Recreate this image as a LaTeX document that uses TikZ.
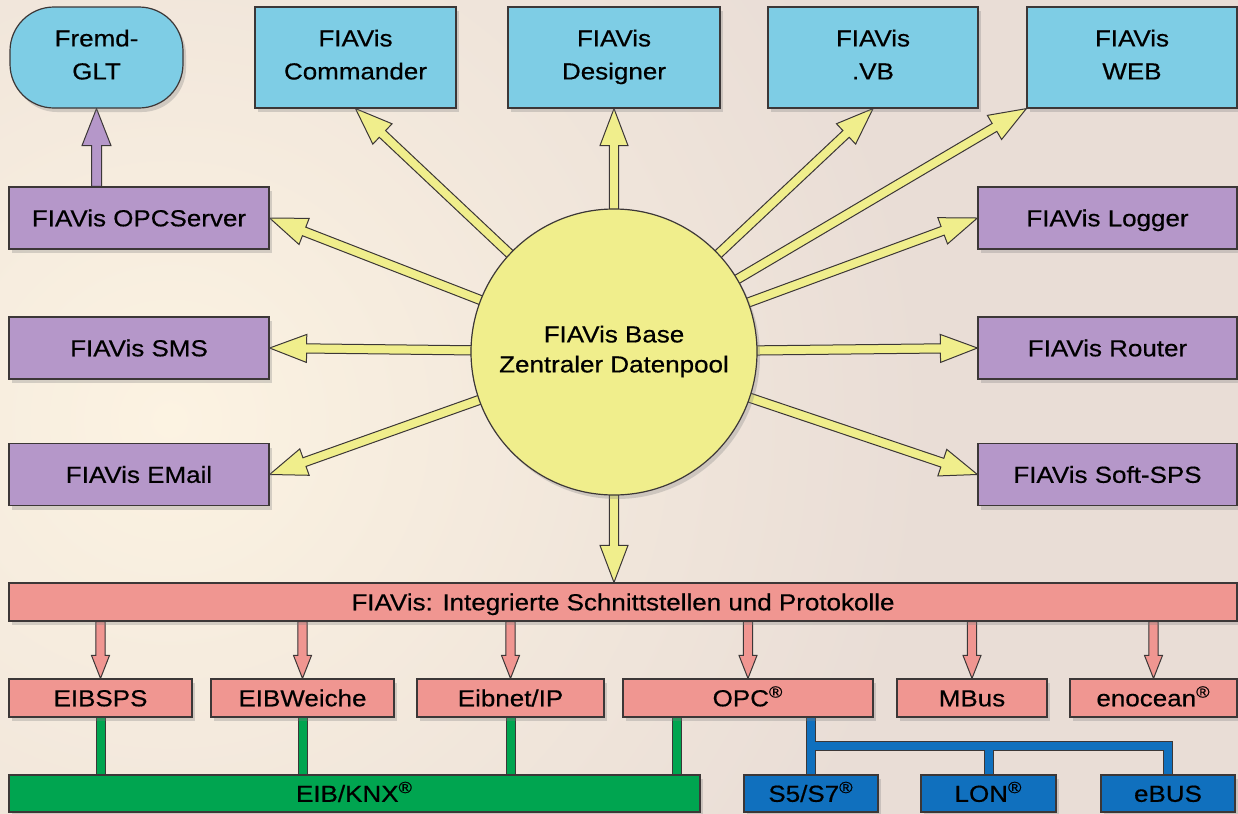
\documentclass[tikz,border=0pt]{standalone}
\usepackage{fontspec}
\setmainfont{Liberation Sans}[FakeStretch=1.12,FakeBold=0.5]
\usetikzlibrary{calc,shadows}
\pgfdeclarelayer{bgl}\pgfdeclarelayer{arr}\pgfsetlayers{bgl,arr,main}
\definecolor{bgc}{RGB}{233,221,214}
\definecolor{glow}{RGB}{252,243,226}
\definecolor{cyanbox}{RGB}{126,205,229}
\definecolor{purp}{RGB}{181,151,201}
\definecolor{yel}{RGB}{240,238,140}
\definecolor{pinkb}{RGB}{240,150,145}
\definecolor{greenb}{RGB}{0,165,80}
\definecolor{blueb}{RGB}{16,112,190}
\definecolor{edge}{RGB}{60,55,55}
\tikzset{
 box/.style={draw=edge, line width=0.6pt, inner sep=0pt, align=center, text=black,
   font=\fontsize{11.6}{16.5}\selectfont,
   execute at begin node={\rule{0pt}{11.3pt}}, execute at end node={\rule[-3pt]{0pt}{3pt}},
   drop shadow={opacity=0.3, shadow xshift=1.5pt, shadow yshift=-2pt}},
 topbox/.style={box, fill=cyanbox, minimum height=50.5pt, execute at begin node={\rule{0pt}{14.8pt}}},
 purpbox/.style={box, fill=purp, minimum height=31pt},
 pinkbox/.style={box, fill=pinkb, minimum height=19pt},
 greenbox/.style={box, fill=greenb, minimum height=18.5pt},
 bluebox/.style={box, fill=blueb, minimum height=18.5pt},
 yarrow/.style={draw=edge, line width=0.5pt, fill=yel, line join=miter},
 parrow/.style={draw=edge, line width=0.5pt, fill=pinkb, line join=miter},
 varrow/.style={draw=edge, line width=0.5pt, fill=purp, line join=miter},
}
% #1 style, #2 half shaft, #3 half head, #4 head length, #5 from, #6 to
\newcommand\faPoly[3]{(0,-#1) -- ({\faLen-#3},-#1) -- ({\faLen-#3},-#2) -- (\faLen,0) -- ({\faLen-#3},#2) -- ({\faLen-#3},#1) -- (0,#1) -- cycle}
\newcommand\fatarrow[6]{%
  \path #5 coordinate (fa-s) #6 coordinate (fa-e);
  \path let \p1=(fa-s), \p2=(fa-e) in \pgfextra{%
    \pgfmathsetmacro\faA{atan2(\y2-\y1,\x2-\x1)}%
    \pgfmathsetmacro\faL{veclen(\x2-\x1,\y2-\y1)}%
    \xdef\faAng{\faA}\xdef\faLen{\faL}};
  \fill[black, opacity=0.25, xshift=1.5pt, yshift=-2pt, shift={(fa-s)}, rotate=\faAng, x=1pt, y=1pt] \faPoly{#2}{#3}{#4};
  \draw[#1, shift={(fa-s)}, rotate=\faAng, x=1pt, y=1pt] \faPoly{#2}{#3}{#4};
}
\begin{document}
\begin{tikzpicture}[x=0.5pt,y=-0.5pt]
\useasboundingbox (0,0) rectangle (1238,814);
\begin{pgfonlayer}{bgl}
\fill[bgc] (0,0) rectangle (1238,814);
\begin{scope}
\clip (0,0) rectangle (1238,814);
\shade[inner color=glow, outer color=bgc] (170,420) circle (760);
\end{scope}
\end{pgfonlayer}

% top row
\node[topbox, rounded corners=22pt, minimum width=86.5pt] (fremd) at (96.5,57.5) {Fremd-\\GLT};
\node[topbox, minimum width=100.5pt] (cmd) at (355.5,57.5) {FIAVis\\Commander};
\node[topbox, minimum width=106pt] (des) at (614,57.5) {FIAVis\\Designer};
\node[topbox, minimum width=105pt] (vb) at (873,57.5) {FIAVis\\.VB};
\node[topbox, minimum width=105pt] (web) at (1132,57.5) {FIAVis\\WEB};

% purple
\node[purpbox, minimum width=130pt] (opcs) at (139,218) {FIAVis OPCServer};
\node[purpbox, minimum width=130pt] (sms) at (139,348) {FIAVis SMS};
\node[purpbox, minimum width=130pt] (em) at (139,474.5) {FIAVis EMail};
\node[purpbox, minimum width=129.5pt] (log) at (1107.5,218) {FIAVis Logger};
\node[purpbox, minimum width=129.5pt] (rou) at (1107.5,348) {FIAVis Router};
\node[purpbox, minimum width=129.5pt] (sps) at (1107.5,474.5) {FIAVis Soft-SPS};

% centre
\node[box, circle, fill=yel, minimum size=143pt, font=\fontsize{11.6}{15}\selectfont,
  execute at begin node={\rule{0pt}{14.3pt}}] (pool) at (614,352) {FIAVis Base\\Zentraler Datenpool};

% interface bar
\node[pinkbox, minimum width=614pt] (int) at (623,602) {FIAVis: Integrierte Schnittstellen und Protokolle};

% protocols
\node[pinkbox, minimum width=91.5pt] (eibsps) at (100.5,698) {EIBSPS};
\node[pinkbox, minimum width=91.5pt] (eibw) at (302.5,698) {EIBWeiche};
\node[pinkbox, minimum width=93.5pt] (eibnet) at (510.5,698) {Eibnet/IP};
\node[pinkbox, minimum width=125pt] (opc) at (748,698) {OPC\textsuperscript{®}};
\node[pinkbox, minimum width=75pt] (mbus) at (972,698) {MBus};
\node[pinkbox, minimum width=83.5pt] (enoc) at (1153.5,698) {enocean\textsuperscript{®}};

% buses
\node[greenbox, minimum width=345.5pt] (knx) at (354.5,793.5) {EIB/KNX\textsuperscript{®}};
\node[bluebox, minimum width=67pt] (s5) at (811,793.5) {S5/S7\textsuperscript{®}};
\node[bluebox, minimum width=67.5pt] (lon) at (988.5,793.5) {LON\textsuperscript{®}};
\node[bluebox, minimum width=67pt] (ebus) at (1168,793.5) {eBUS};

\begin{pgfonlayer}{arr}
% yellow rays
\fatarrow{yarrow}{2.3}{7}{18.5}{(pool.center)}{(cmd.south)}
\fatarrow{yarrow}{2.3}{7}{18.5}{(pool.center)}{(des.south)}
\fatarrow{yarrow}{2.3}{7}{18.5}{(pool.center)}{(vb.south)}
\fatarrow{yarrow}{2.3}{7}{18.5}{(pool.center)}{(web.south west)}
\fatarrow{yarrow}{2.3}{7}{18.5}{(pool.center)}{(opcs.east)}
\fatarrow{yarrow}{2.3}{7}{18.5}{(pool.center)}{(sms.east)}
\fatarrow{yarrow}{2.3}{7}{18.5}{(pool.center)}{(em.east)}
\fatarrow{yarrow}{2.3}{7}{18.5}{(pool.center)}{(log.west)}
\fatarrow{yarrow}{2.3}{7}{18.5}{(pool.center)}{(rou.west)}
\fatarrow{yarrow}{2.3}{7}{18.5}{(pool.center)}{(sps.west)}
\fatarrow{yarrow}{2.3}{7}{18.5}{(pool.center)}{(pool.center |- int.north)}
% purple
\fatarrow{varrow}{2.5}{7.25}{18.5}{(opcs.north -| fremd.south)}{(fremd.south)}
% pink
\fatarrow{parrow}{2.3}{4.5}{11.5}{(int.south -| eibsps.north)}{(eibsps.north)}
\fatarrow{parrow}{2.3}{4.5}{11.5}{(int.south -| eibw.north)}{(eibw.north)}
\fatarrow{parrow}{2.3}{4.5}{11.5}{(int.south -| eibnet.north)}{(eibnet.north)}
\fatarrow{parrow}{2.3}{4.5}{11.5}{(int.south -| opc.north)}{(opc.north)}
\fatarrow{parrow}{2.3}{4.5}{11.5}{(int.south -| mbus.north)}{(mbus.north)}
\fatarrow{parrow}{2.3}{4.5}{11.5}{(int.south -| enoc.north)}{(enoc.north)}
% green connectors
\coordinate (opcg) at ([xshift=-35.5pt]opc.south);
\coordinate (opcb) at ([xshift=31.5pt]opc.south);
\coordinate (bus) at ($(opc.south)!0.5!(s5.north)$);
\foreach \w/\c in {5pt/edge,4pt/greenb}{
  \draw[line width=\w, \c] (eibsps.south) -- (eibsps.south |- knx.north)
    (eibw.south) -- (eibw.south |- knx.north)
    (eibnet.south) -- (eibnet.south |- knx.north)
    (opcg) -- (opcg |- knx.north);
}
\foreach \w/\c in {5pt/edge,4pt/blueb}{
  \draw[line width=\w, \c, line join=miter] (opcb) -- (s5.north);
  \draw[line width=\w, \c, line join=miter] (s5.north |- bus) -- (ebus.north |- bus) -- (ebus.north);
  \draw[line width=\w, \c] (lon.north |- bus) -- (lon.north);
}
\end{pgfonlayer}
\end{tikzpicture}
\end{document}
